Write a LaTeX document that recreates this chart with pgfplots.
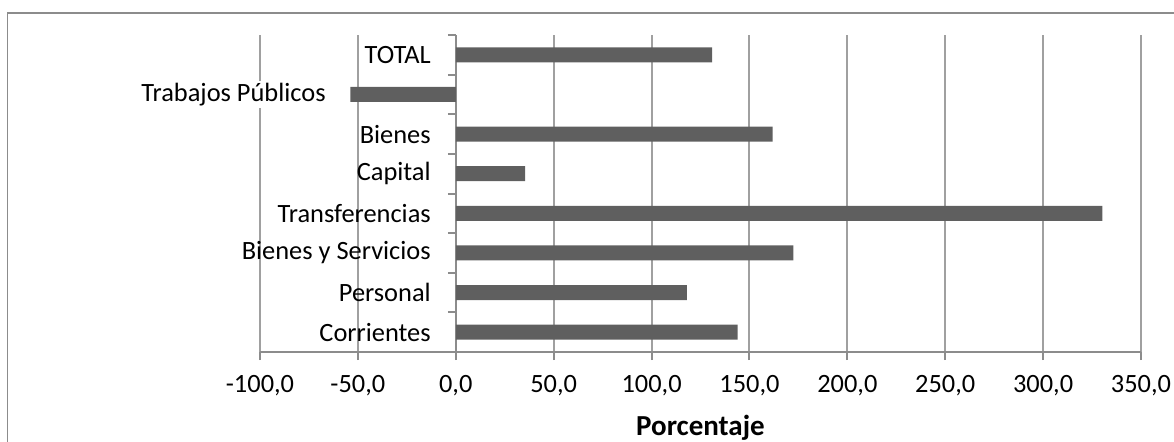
\documentclass[border=0pt]{standalone}
\usepackage{pgfplots}
\pgfplotsset{compat=1.18}
\usepackage{fontspec}
\setmainfont{Carlito}
\definecolor{barc}{HTML}{5F5F5F}
\definecolor{gridc}{HTML}{A0A0A0}
\definecolor{axc}{HTML}{8C8C8C}
\begin{document}
\begin{tikzpicture}
\useasboundingbox (0,0) rectangle (587pt,-220.5pt);
\draw[axc, line width=0.9pt] (3.7pt,-240pt) -- (3.7pt,-6.6pt) -- (600pt,-6.6pt);
\begin{axis}[
  at={(130pt,-176pt)}, anchor=south west,
  scale only axis, width=440.5pt, height=158.5pt,
  xmin=-100, xmax=350, ymin=-0.5, ymax=7.5,
  xbar, bar width=7.5pt,
  axis x line=bottom, axis y line=middle,
  axis line style={axc, line width=1pt, -},
  xtick={-100,-50,...,350},
  xmajorgrids, grid style={gridc, line width=1pt},
  ytick={-0.5,0.5,1.5,2.5,3.5,4.5,5.5,6.5,7.5}, yticklabels={,,,,,,,,,},
  extra y ticks={0,1,2,3,4,5,6,7},
  extra y tick labels={Corrientes, Personal, Bienes y Servicios, Transferencias, Capital, Bienes, {{\fboxsep=1pt\colorbox{white}{Trabajos Públicos}\hspace*{51.5pt}}}, TOTAL},
  extra y tick style={major tick length=0pt, yticklabel style={xshift=-9pt}},
  tick align=outside, major tick length=4pt,
  tick style={axc, line width=1pt},
  xticklabel style={/pgf/number format/fixed, /pgf/number format/fixed zerofill, /pgf/number format/precision=1, /pgf/number format/use comma, /pgf/number format/assume math mode=true},
  ticklabel style={font=\fontsize{13.2}{15}\selectfont, text=black},
  xticklabel style={yshift=-4pt},
  xlabel={Porcentaje},
  xlabel style={font=\fontsize{14.5}{16}\selectfont\bfseries, at={(axis description cs:0.5,0)}, anchor=center, yshift=-38pt},
]
\addplot[fill=barc, draw=none] coordinates {(144,0) (118,1) (172.4,2) (330.3,3) (35.4,4) (161.8,5) (-53.9,6) (131,7)};
\end{axis}
\end{tikzpicture}
\end{document}
